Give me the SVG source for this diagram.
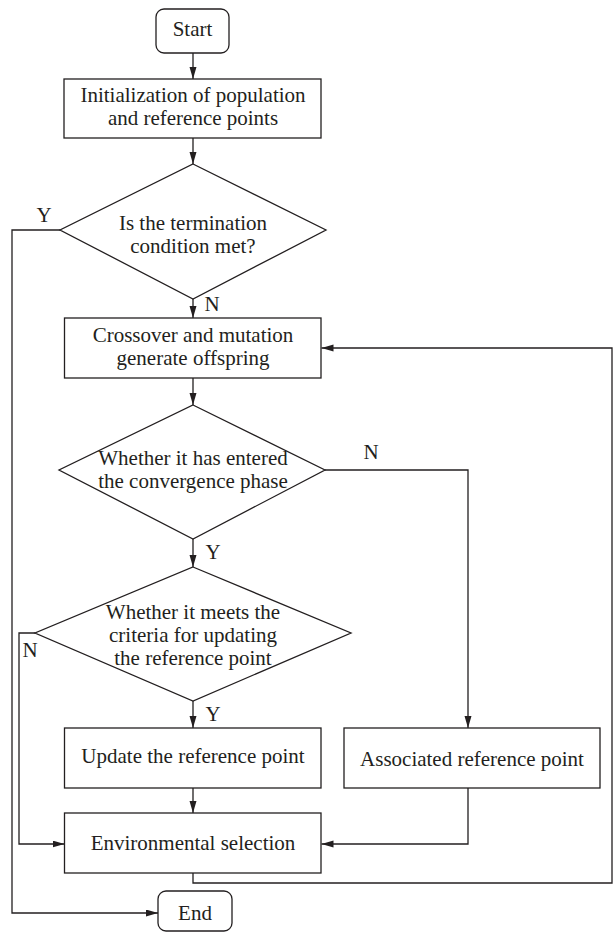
<svg xmlns="http://www.w3.org/2000/svg" width="613" height="932" viewBox="0 0 613 932">
<defs>
<style>
.box{fill:#fff;stroke:#231f20;stroke-width:1.3}
.ln{fill:none;stroke:#231f20;stroke-width:1.3}
text{font-family:"Liberation Serif","Times New Roman",serif;font-size:21px;fill:#231f20;text-anchor:middle}
</style>
<marker id="ah" markerWidth="13" markerHeight="8" refX="12" refY="3.5" orient="auto" markerUnits="userSpaceOnUse">
<path d="M0,0 L12,3.5 L0,7 z" fill="#231f20"/>
</marker>
</defs>
<rect width="613" height="932" fill="#fff"/>
<g id="connectors">
<path class="ln" d="M193,53 V79" marker-end="url(#ah)"/>
<path class="ln" d="M193,138 V164" marker-end="url(#ah)"/>
<path class="ln" d="M60,230 H12 V913 H158" marker-end="url(#ah)"/>
<path class="ln" d="M193,299 V318" marker-end="url(#ah)"/>
<path class="ln" d="M193,378 V405" marker-end="url(#ah)"/>
<path class="ln" d="M325,470 H468 V728" marker-end="url(#ah)"/>
<path class="ln" d="M193,539 V567" marker-end="url(#ah)"/>
<path class="ln" d="M35,633 H19 V844 H64.5" marker-end="url(#ah)"/>
<path class="ln" d="M193,701 V728" marker-end="url(#ah)"/>
<path class="ln" d="M193,788 V813" marker-end="url(#ah)"/>
<path class="ln" d="M468,788 V844 H321.5" marker-end="url(#ah)"/>
<path class="ln" d="M193,873 V883 H612 V348 H321.5" marker-end="url(#ah)"/>
<text x="44" y="222">Y</text>
<text x="212" y="311">N</text>
<text x="371" y="459">N</text>
<text x="213" y="559">Y</text>
<text x="30" y="657">N</text>
<text x="213" y="721">Y</text>
</g>
<g id="start">
<rect class="box" x="156" y="9" width="73" height="44" rx="8"/>
<text x="192.5" y="36">Start</text>
</g>
<g id="init">
<rect class="box" x="64" y="79" width="257" height="59"/>
<text x="193" y="102">Initialization of population</text>
<text x="193" y="125">and reference points</text>
</g>
<g id="term">
<polygon class="box" points="193,164 326,230 193,299 60,230"/>
<text x="193" y="230">Is the termination</text>
<text x="193" y="253">condition met?</text>
</g>
<g id="crossover">
<rect class="box" x="64.5" y="318" width="256.5" height="60"/>
<text x="193" y="342">Crossover and mutation</text>
<text x="193" y="365">generate offspring</text>
</g>
<g id="converge">
<polygon class="box" points="193,405 325,470 193,539 59,470"/>
<text x="193" y="465">Whether it has entered</text>
<text x="193" y="488">the convergence phase</text>
</g>
<g id="criteria">
<polygon class="box" points="193,567 351,633 193,701 35,633"/>
<text x="193" y="619">Whether it meets the</text>
<text x="193" y="642">criteria for updating</text>
<text x="193" y="665">the reference point</text>
</g>
<g id="update">
<rect class="box" x="64.5" y="728" width="256.5" height="60"/>
<text x="193" y="763">Update the reference point</text>
</g>
<g id="associated">
<rect class="box" x="344" y="728" width="256" height="60"/>
<text x="472" y="766">Associated reference point</text>
</g>
<g id="env">
<rect class="box" x="64.5" y="813" width="256.5" height="60"/>
<text x="193" y="850">Environmental selection</text>
</g>
<g id="end">
<rect class="box" x="158" y="891" width="74" height="40" rx="8"/>
<text x="195" y="920">End</text>
</g>
</svg>
